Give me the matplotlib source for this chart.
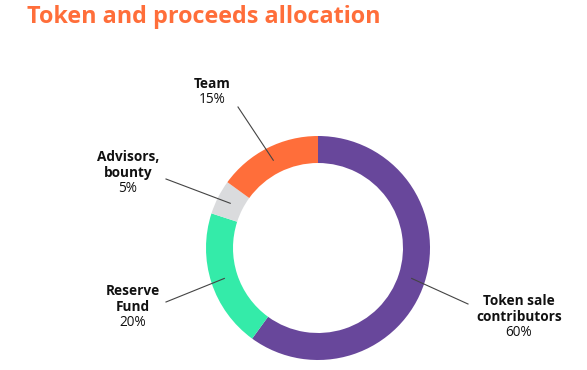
import numpy as np
import matplotlib.pyplot as plt

# allocation data
labels = ["Token sale\ncontributors", "Reserve\nFund", "Advisors,\nbounty", "Team"]
shares = [60, 20, 5, 15]
colors = ["#68479B", "#34EBA9", "#DADBDD", "#FF6E3A"]

# where the label blocks sit (pixel coords, y down): centre x, y of last name line
label_pos = [(519, 317), (133, 307), (128, 173), (212, 84)]
line_start = [(468, 304), (166, 302), (166, 179), (238, 107)]

W, H = 587, 370
fig = plt.figure(figsize=(W / 100, H / 100), dpi=100)
ax = fig.add_axes([0, 0, 1, 1])

cx, cy, R = 318, 248, 112
width = 27
wedges, _ = ax.pie(shares, colors=colors, startangle=-90, counterclock=True,
                   center=(cx, cy), radius=R,
                   wedgeprops=dict(width=width, linewidth=0))
ax.set_xlim(0, W)
ax.set_ylim(H, 0)
ax.set_aspect("equal")
ax.axis("off")

fs = 9.8
mid_r = R - width / 2
for w, lab, val, (tx, ty), (lx, ly) in zip(wedges, labels, shares, label_pos, line_start):
    ang = np.deg2rad((w.theta1 + w.theta2) / 2)
    ex, ey = cx + mid_r * np.cos(ang), cy + mid_r * np.sin(ang)
    ax.plot([lx, ex], [ly, ey], color="#444444", lw=0.8)
    nlines = lab.count("\n") + 1
    name_y = ty - 8 * (nlines - 1)
    ax.text(tx, name_y, lab, ha="center", va="center", fontsize=fs,
            fontweight="bold", family="Open Sans", color="#111111",
            linespacing=1.18)
    ax.text(tx, ty + 15.5, f"{val}%", ha="center", va="center", fontsize=fs,
            family="Open Sans", color="#111111")

fig.text(27 / W, 1 - 17 / H, "Token and proceeds allocation", ha="left", va="center",
         fontsize=16.8, fontweight="bold", family="Open Sans", color="#FF6E3A")

fig.savefig("out.png", dpi=100)
